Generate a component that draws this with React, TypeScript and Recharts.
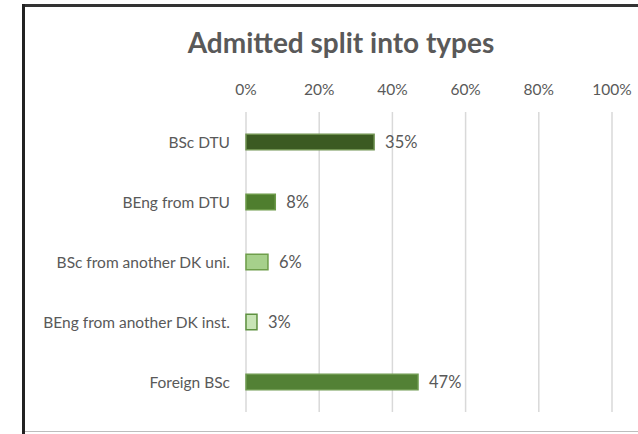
import React from "react";
import { BarChart, Bar, XAxis, YAxis, CartesianGrid, Cell, LabelList } from "recharts";

const categories = [
  "BSc DTU",
  "BEng from DTU",
  "BSc from another DK uni.",
  "BEng from another DK inst.",
  "Foreign BSc",
];
const values = [35, 8, 6, 3, 47];
const xTicks = [0, 20, 40, 60, 80, 100];
const fills = ["#3B5A22", "#4F7E2E", "#A6D08B", "#C8E4B6", "#538135"];
const strokes = ["#6F9150", "#6C9A48", "#6E9E4A", "#5E9140", "#6F9A50"];

const data = categories.map((name, i) => ({ name, value: values[i] }));

const FONT = "Lato, 'Open Sans', sans-serif";
const TEXT = "#595959";

export default function App() {
  return (
    <div style={{ position: "relative", width: 638, height: 434, background: "#fff", overflow: "hidden", fontFamily: FONT }}>
      <style>{`html,body{margin:0;padding:0;overflow:hidden;}`}</style>
      <div style={{ position: "absolute", left: 22, top: 4, width: 616, height: 3, background: "#333" }} />
      <div style={{ position: "absolute", left: 22, top: 4, width: 3, height: 430, background: "#222" }} />
      <div style={{ position: "absolute", left: 25, top: 431, width: 613, height: 1, background: "#bdbdbd" }} />
      <div
        style={{
          position: "absolute",
          left: 91,
          width: 500,
          top: 26,
          textAlign: "center",
          fontSize: 28,
          fontWeight: 700,
          color: TEXT,
          lineHeight: "32px",
        }}
      >
        Admitted split into types
      </div>
      <div style={{ position: "absolute", left: 0, top: 0, width: 637, height: 434, overflow: "hidden" }}>
        <BarChart
          width={638}
          height={434}
          data={data}
          layout="vertical"
          margin={{ top: 62, right: 26, bottom: 22, left: 20 }}
          barCategoryGap="63%"
          style={{ outline: "none" }}
        >
          <CartesianGrid horizontal={false} vertical={true} stroke="#d9d9d9" strokeWidth={1.5} />
          <XAxis
            type="number"
            orientation="top"
            domain={[0, 100]}
            ticks={xTicks}
            tickFormatter={(v) => `${v}%`}
            axisLine={false}
            tickLine={false}
            tickSize={0}
            tickMargin={17}
            height={50}
            interval={0}
            tick={{ fill: TEXT, fontSize: 15.5, fontFamily: FONT }}
          />
          <YAxis
            type="category"
            dataKey="name"
            width={226}
            axisLine={false}
            tickLine={false}
            tickSize={0}
            tickMargin={16}
            interval={0}
            tick={{ fill: TEXT, fontSize: 15.5, fontFamily: FONT }}
          />
          <Bar dataKey="value" isAnimationActive={false}>
            {data.map((d, i) => (
              <Cell key={d.name} fill={fills[i]} stroke={strokes[i]} strokeWidth={1.5} />
            ))}
            <LabelList
              dataKey="value"
              position="right"
              offset={11}
              formatter={(v: any) => `${v}%`}
              style={{ fill: TEXT, fontSize: 16.5, fontFamily: FONT }}
            />
          </Bar>
        </BarChart>
      </div>
    </div>
  );
}
